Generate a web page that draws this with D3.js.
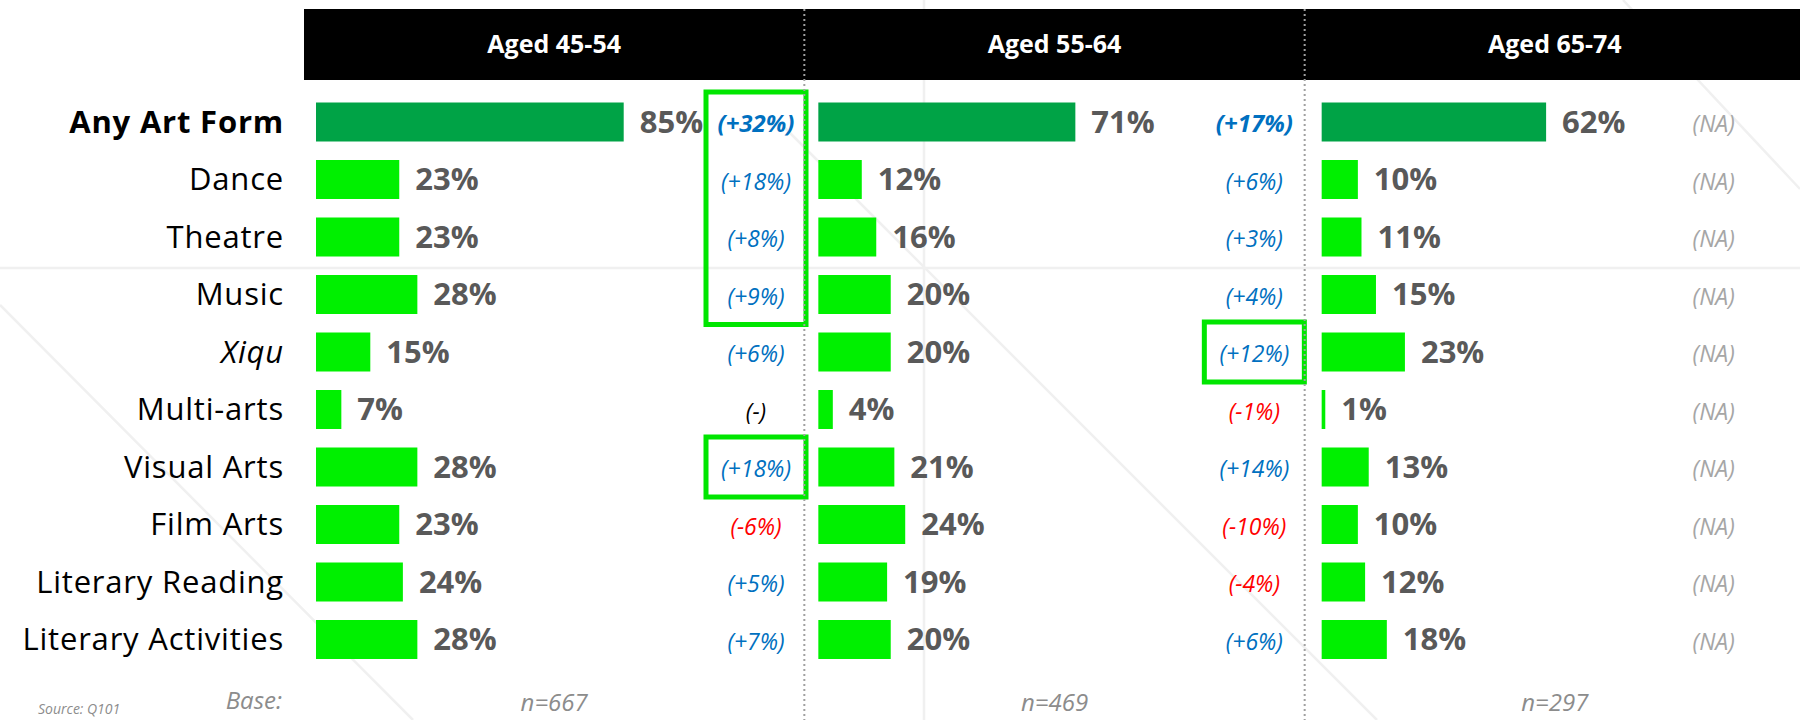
<!DOCTYPE html>
<html>
<head>
<meta charset="utf-8">
<script src="https://cdn.jsdelivr.net/npm/d3@7"></script>
<style>
  html, body { margin: 0; padding: 0; background: #fff; }
  svg { display: block; font-family: "Open Sans", sans-serif; }
</style>
</head>
<body>
<svg class="art-chart" width="1800" height="720"></svg>
<script>
const categories = ["Any Art Form", "Dance", "Theatre", "Music", "Xiqu", "Multi-arts",
  "Visual Arts", "Film Arts", "Literary Reading", "Literary Activities"];
const ageGroups = ["Aged 45-54", "Aged 55-64", "Aged 65-74"];

const values4554 = [85, 23, 23, 28, 15, 7, 28, 23, 24, 28];
const values5564 = [71, 12, 16, 20, 20, 4, 21, 24, 19, 20];
const values6574 = [62, 10, 11, 15, 23, 1, 13, 10, 12, 18];

const change4554 = ["+32%", "+18%", "+8%", "+9%", "+6%", "-", "+18%", "-6%", "+5%", "+7%"];
const change5564 = ["+17%", "+6%", "+3%", "+4%", "+12%", "-1%", "+14%", "-10%", "-4%", "+6%"];
const change6574 = ["NA", "NA", "NA", "NA", "NA", "NA", "NA", "NA", "NA", "NA"];

const bases = ["n=667", "n=469", "n=297"];

// green boxes: group index, first row, last row
const highlights = [
  { group: 0, from: 0, to: 3 },
  { group: 0, from: 6, to: 6 },
  { group: 1, from: 4, to: 4 },
];

const allValues = [values4554, values5564, values6574];
const allChanges = [change4554, change5564, change6574];

const svg = d3.select(".art-chart"),
  width = 1800,
  height = 720,
  headerTop = 9,
  headerBottom = 80,
  barHeight = 39,
  labelRight = 284,
  valueGap = 16,
  barInset = [12, 14, 17], // bar start, from panel start
  changeOffset = [452, 450, 409]; // change column centre, from panel start

const panelX = d3.scaleBand().domain(ageGroups).range([304, 1805]);
const y = d3.scalePoint().domain(categories).range([122, 639.5]);
const x = d3.scaleLinear().domain([0, 100]).range([0, 362]);

// faint background decoration
const bg = svg.append("g").attr("stroke", "#f0f0f0").attr("fill", "none").attr("stroke-width", 2.5);
bg.append("line").attr("x1", 0).attr("x2", width).attr("y1", 268).attr("y2", 268);
bg.append("line").attr("x1", 924).attr("x2", 924).attr("y1", 0).attr("y2", height);
bg.append("line").attr("x1", 0).attr("y1", 305).attr("x2", 413).attr("y2", 720);
bg.append("line").attr("x1", 780).attr("y1", 123).attr("x2", 1377).attr("y2", 720);
bg.append("line").attr("x1", 1623).attr("y1", 0).attr("x2", 1800).attr("y2", 189);

// header bar
svg.append("rect")
  .attr("x", panelX(ageGroups[0]))
  .attr("y", headerTop)
  .attr("width", width - panelX(ageGroups[0]))
  .attr("height", headerBottom - headerTop)
  .attr("fill", "#000");

svg.append("g")
  .selectAll("text")
  .data(ageGroups)
  .join("text")
  .attr("x", (d) => panelX(d) + panelX.bandwidth() / 2)
  .attr("y", (headerTop + headerBottom) / 2)
  .attr("dy", "0.35em")
  .attr("text-anchor", "middle")
  .attr("fill", "#fff")
  .attr("font-weight", 700)
  .attr("font-size", 25)
  .text((d) => d);

// category labels
svg.append("g")
  .selectAll("text")
  .data(categories)
  .join("text")
  .attr("x", labelRight)
  .attr("y", (d) => y(d))
  .attr("dy", "0.35em")
  .attr("text-anchor", "end")
  .attr("fill", "#000")
  .attr("font-size", 31)
  .attr("letter-spacing", 0.8)
  .attr("font-weight", (d, i) => (i === 0 ? 700 : 400))
  .attr("font-style", (d) => (d === "Xiqu" ? "italic" : "normal"))
  .text((d) => d);

function changeColour(c) {
  if (c === "NA") return "#a6a6a6";
  if (c === "-") return "#000";
  return c[0] === "+" ? "#0070c0" : "#ff0000";
}

ageGroups.forEach((group, gi) => {
  const x0 = panelX(group) + barInset[gi];
  const rows = categories.map((c, i) => ({
    category: c,
    value: allValues[gi][i],
    change: allChanges[gi][i],
    index: i,
  }));
  const g = svg.append("g");

  g.selectAll("rect")
    .data(rows)
    .join("rect")
    .attr("x", x0)
    .attr("y", (d) => y(d.category) - barHeight / 2)
    .attr("width", (d) => x(d.value))
    .attr("height", barHeight)
    .attr("fill", (d) => (d.index === 0 ? "#00a346" : "#00f000"));

  g.selectAll("text.value")
    .data(rows)
    .join("text")
    .attr("class", "value")
    .attr("x", (d) => x0 + x(d.value) + valueGap)
    .attr("y", (d) => y(d.category))
    .attr("dy", "0.35em")
    .attr("fill", "#595959")
    .attr("font-weight", 700)
    .attr("font-size", 31)
    .text((d) => d.value + "%");

  g.selectAll("text.change")
    .data(rows)
    .join("text")
    .attr("class", "change")
    .attr("x", panelX(group) + changeOffset[gi])
    .attr("y", (d) => y(d.category) + 2)
    .attr("dy", "0.35em")
    .attr("text-anchor", "middle")
    .attr("font-style", "italic")
    .attr("font-size", (d) => (d.index === 0 && d.change !== "NA" ? 24 : 23))
    .attr("font-weight", (d) => (d.index === 0 && d.change !== "NA" ? 700 : 400))
    .attr("fill", (d) => changeColour(d.change))
    .text((d) => "(" + d.change + ")");

  svg.append("text")
    .attr("x", panelX(group) + panelX.bandwidth() / 2)
    .attr("y", 711)
    .attr("text-anchor", "middle")
    .attr("font-style", "italic")
    .attr("font-size", 24)
    .attr("fill", "#8c8c8c")
    .text(bases[gi]);
});

// highlight boxes
svg.append("g")
  .selectAll("rect")
  .data(highlights)
  .join("rect")
  .attr("x", (d) => panelX(ageGroups[d.group]) + changeOffset[d.group] - 50)
  .attr("y", (d) => y(categories[d.from]) - 30)
  .attr("width", 100)
  .attr("height", (d) => y(categories[d.to]) - y(categories[d.from]) + 60)
  .attr("fill", "none")
  .attr("stroke", "#00e600")
  .attr("stroke-width", 5);

// dotted separators
svg.append("g")
  .selectAll("line")
  .data(ageGroups.slice(1))
  .join("line")
  .attr("x1", (d) => panelX(d))
  .attr("x2", (d) => panelX(d))
  .attr("y1", headerTop)
  .attr("y2", height)
  .attr("stroke", "#a0a0a0")
  .attr("stroke-width", 2)
  .attr("stroke-dasharray", "2,3");

svg.append("text")
  .attr("x", labelRight - 2)
  .attr("y", 709)
  .attr("text-anchor", "end")
  .attr("font-style", "italic")
  .attr("font-size", 24)
  .attr("fill", "#8c8c8c")
  .text("Base:");

svg.append("text")
  .attr("x", 38)
  .attr("y", 714)
  .attr("font-style", "italic")
  .attr("font-size", 14)
  .attr("fill", "#8c8c8c")
  .text("Source: Q101");
</script>
</body>
</html>
